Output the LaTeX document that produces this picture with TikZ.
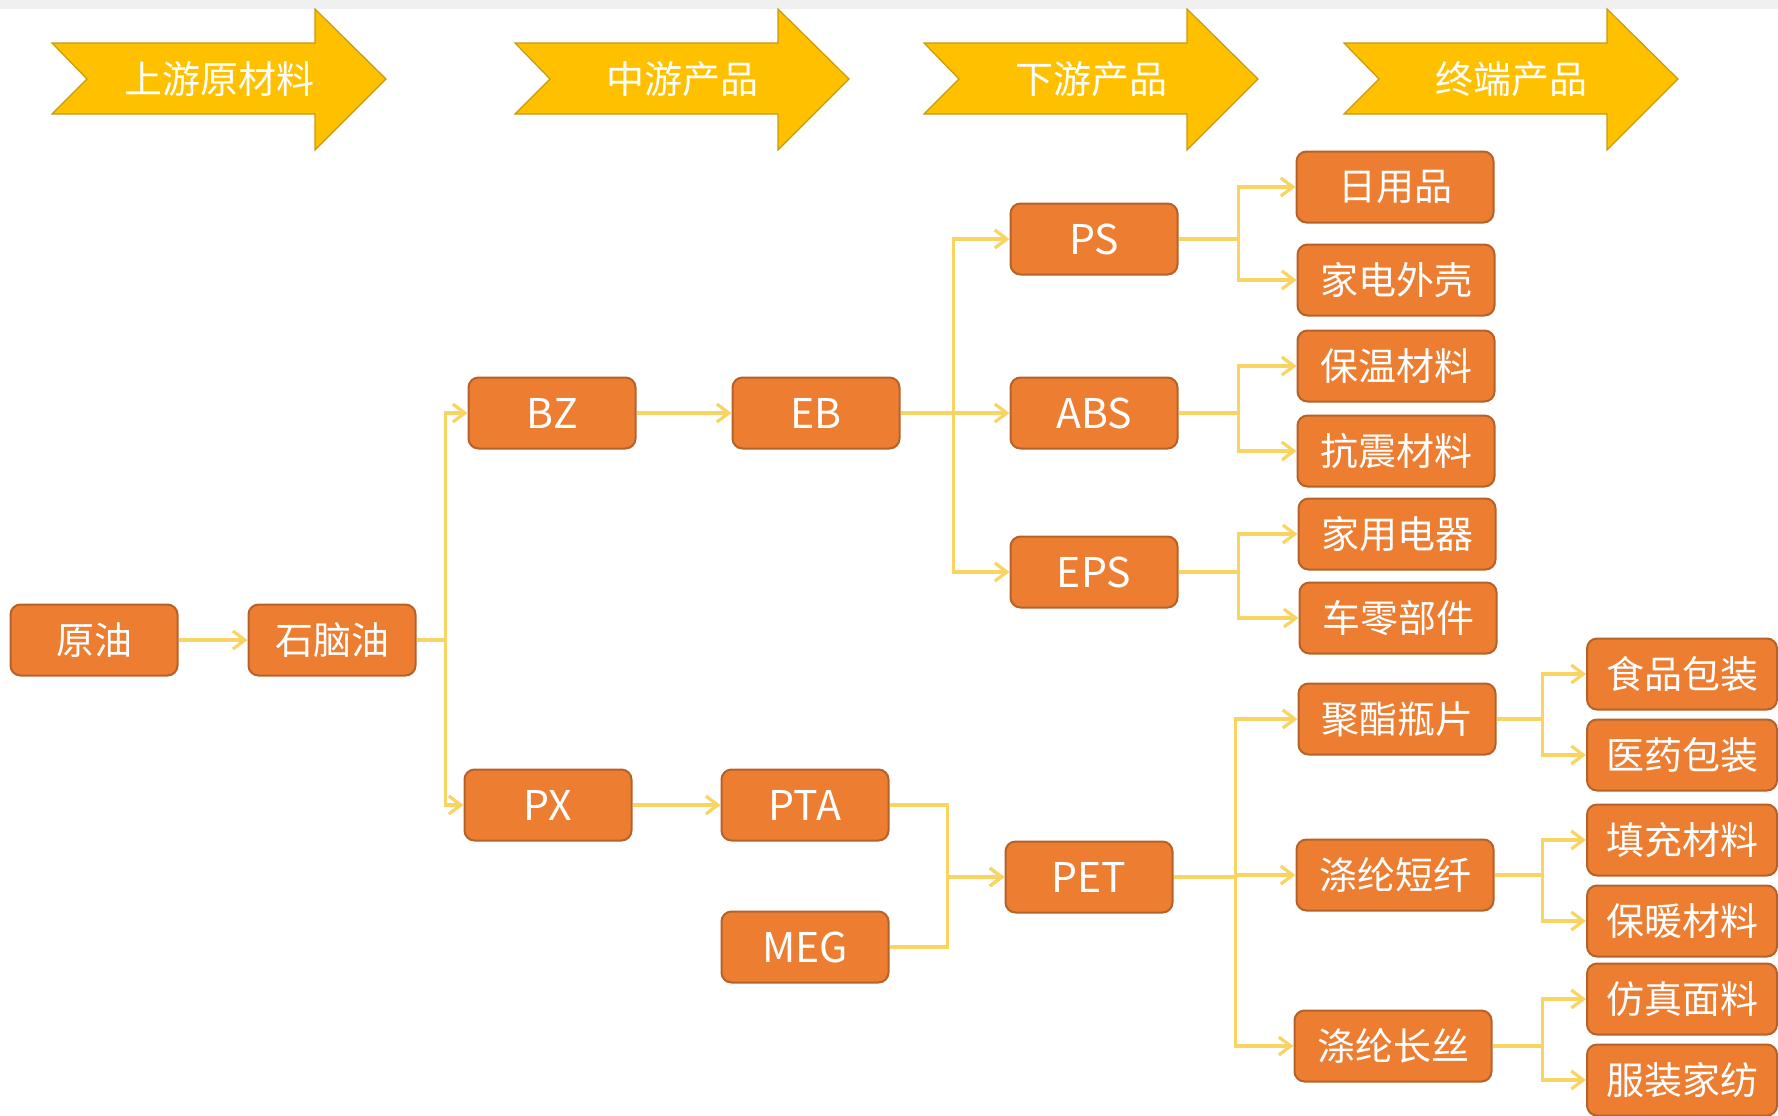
\documentclass[tikz,border=0pt]{standalone}
\usepackage{fontspec}
\setmainfont{Noto Sans CJK SC}
\usepackage{xcolor}
\usepackage{tikz}
\usetikzlibrary{positioning,arrows.meta}

\definecolor{boxfill}{HTML}{ED7D31}
\definecolor{boxline}{HTML}{B5622A}
\definecolor{linkcol}{HTML}{FAD462}
\definecolor{bannerfill}{HTML}{FFC000}
\definecolor{bannerline}{HTML}{C79A10}

\tikzset{
	box/.style={rectangle, draw=boxline, line width=1pt, fill=boxfill, text=white, rounded corners=5pt, minimum width=83.5pt, minimum height=35.5pt, inner sep=0pt, font=\fontsize{19}{22}\selectfont},
	abbr box/.style={box, font=\fontsize{20.5}{24}\selectfont},
	wide box/.style={box, minimum width=98.5pt},
	end box/.style={box, minimum width=95pt},
	link/.style={draw=linkcol, line width=1.6pt, -{Straight Barb[length=6pt,width=9pt]}},
	banner/.style={fill=bannerfill, draw=bannerline, line width=0.6pt},
	bannertext/.style={text=white, font=\fontsize{19}{22}\selectfont}
}

\begin{document}
\begin{tikzpicture}[x=0.5pt, y=-0.5pt]
	\useasboundingbox (0,0) rectangle (1778,1115);
	\fill[black!6] (0,0) rectangle (1778,9);

	% stage banners
	\draw[banner] (52,43) -- ++(263,0) -- ++(0,-34) -- ++(71,70) -- ++(-71,71) -- ++(0,-36) -- ++(-263,0) -- ++(35,-35) -- cycle;
	\draw[banner] (515,43) -- ++(263,0) -- ++(0,-34) -- ++(71,70) -- ++(-71,71) -- ++(0,-36) -- ++(-263,0) -- ++(35,-35) -- cycle;
	\draw[banner] (924,43) -- ++(263,0) -- ++(0,-34) -- ++(71,70) -- ++(-71,71) -- ++(0,-36) -- ++(-263,0) -- ++(35,-35) -- cycle;
	\draw[banner] (1344,43) -- ++(263,0) -- ++(0,-34) -- ++(71,70) -- ++(-71,71) -- ++(0,-36) -- ++(-263,0) -- ++(35,-35) -- cycle;
	\node[bannertext] (upstream) at (219,79) {上游原材料};
	\node[bannertext] (midstream) at (682,79) {中游产品};
	\node[bannertext] (downstream) at (1091,79) {下游产品};
	\node[bannertext] (enduse) at (1511,79) {终端产品};

	\node[box] (crude) at (94,640) {原油};
	\node[box, right of=crude, node distance=119pt] (naphtha) {石脑油};
	\node[abbr box] (bz) at (552,413) {BZ};
	\node[abbr box, right of=bz, node distance=132pt] (eb) {EB};
	\node[abbr box] (px) at (548,805) {PX};
	\node[abbr box, right of=px, node distance=128.5pt] (pta) {PTA};
	\node[abbr box, below of=pta, node distance=71pt] (meg) {MEG};

	\node[abbr box] (ps) at (1094,239) {PS};
	\node[abbr box] (abs) at (1094,413) {ABS};
	\node[abbr box] (eps) at (1094,572) {EPS};
	\node[abbr box] (pet) at (1089,877) {PET};

	\node[wide box] (daily) at (1395,187) {日用品};
	\node[wide box] (shell) at (1396,280) {家电外壳};
	\node[wide box] (insul) at (1396,366) {保温材料};
	\node[wide box] (seismic) at (1396,451) {抗震材料};
	\node[wide box] (appliance) at (1397,534) {家用电器};
	\node[wide box] (autopart) at (1398,618) {车零部件};
	\node[wide box] (chip) at (1397,719) {聚酯瓶片};
	\node[wide box] (staple) at (1395,875) {涤纶短纤};
	\node[wide box] (filament) at (1393,1046) {涤纶长丝};

	\node[end box] (food) at (1682,674) {食品包装};
	\node[end box] (pharma) at (1682,755) {医药包装};
	\node[end box] (filling) at (1682,840) {填充材料};
	\node[end box] (warm) at (1682,921) {保暖材料};
	\node[end box] (fabric) at (1682,999) {仿真面料};
	\node[end box] (textile) at (1682,1080) {服装家纺};

	\path[link] (crude) -- (naphtha);
	\path[link] (naphtha.east) -- ++(29,0) |- (bz.west);
	\path[link] (naphtha.east) -- ++(29,0) |- (px.west);
	\path[link] (bz) -- (eb);
	\path[link] (px) -- (pta);
	\path[link] (eb.east) -- ++(53,0) |- (ps.west);
	\path[link] (eb.east) -- ++(53,0) |- (abs.west);
	\path[link] (eb.east) -- ++(53,0) |- (eps.west);
	\path[link] (pta.east) -- ++(58,0) |- (pet.west);
	\path[link] (meg.east) -- ++(58,0) |- (pet.west);

	\path[link] (ps.east) -- ++(60,0) |- (daily.west);
	\path[link] (ps.east) -- ++(60,0) |- (shell.west);
	\path[link] (abs.east) -- ++(60,0) |- (insul.west);
	\path[link] (abs.east) -- ++(60,0) |- (seismic.west);
	\path[link] (eps.east) -- ++(60,0) |- (appliance.west);
	\path[link] (eps.east) -- ++(60,0) |- (autopart.west);
	\path[link] (pet.east) -- ++(62,0) |- (chip.west);
	\path[link] (pet.east) -- ++(62,0) |- (staple.west);
	\path[link] (pet.east) -- ++(62,0) |- (filament.west);

	\path[link] (chip.east) -- ++(46,0) |- (food.west);
	\path[link] (chip.east) -- ++(46,0) |- (pharma.west);
	\path[link] (staple.east) -- ++(48,0) |- (filling.west);
	\path[link] (staple.east) -- ++(48,0) |- (warm.west);
	\path[link] (filament.east) -- ++(50,0) |- (fabric.west);
	\path[link] (filament.east) -- ++(50,0) |- (textile.west);
\end{tikzpicture}
\end{document}
